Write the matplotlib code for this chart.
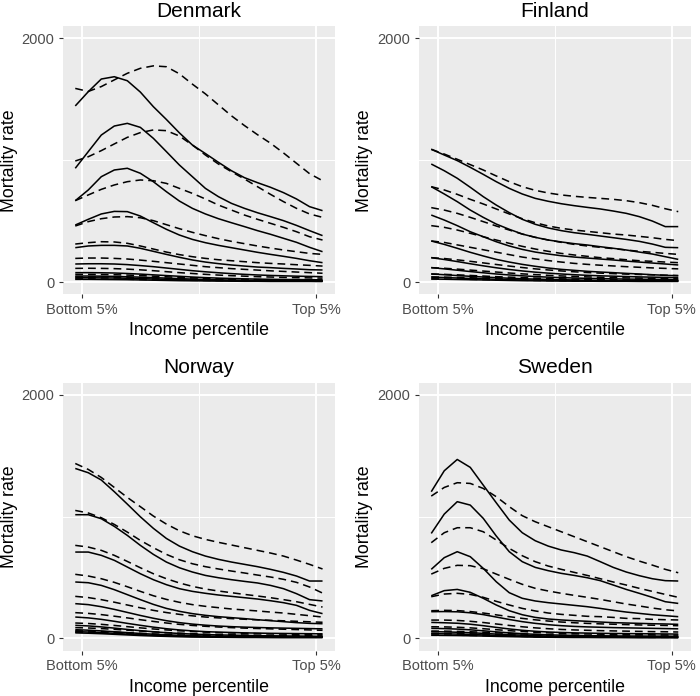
import matplotlib
matplotlib.use("Agg")
import matplotlib.pyplot as plt
from matplotlib.ticker import FixedLocator

plt.rcParams['font.family'] = ['Liberation Sans', 'DejaVu Sans']

# Income percentile midpoints (5% groups)
x_pct = [2.5, 7.5, 12.5, 17.5, 22.5, 27.5, 32.5, 37.5, 42.5, 47.5,
         52.5, 57.5, 62.5, 67.5, 72.5, 77.5, 82.5, 87.5, 92.5, 97.5]
x_tick_pos = [5, 95]
x_tick_labels = ["Bottom 5%", "Top 5%"]
y_tick_pos = [0, 2000]
y_tick_labels = ["0", "2000"]
countries = ["Denmark", "Finland", "Norway", "Sweden"]

denmark_solid = [
    [1446, 1563, 1667, 1686, 1653, 1560, 1440, 1335, 1225, 1125, 1055, 983, 914, 857, 816, 778, 734, 682, 619, 586],
    [934, 1071, 1207, 1281, 1303, 1270, 1180, 1071, 961, 865, 769, 701, 646, 605, 569, 537, 504, 465, 422, 381],
    [668, 756, 865, 920, 934, 893, 824, 742, 665, 605, 559, 520, 487, 455, 422, 392, 359, 326, 285, 249],
    [468, 515, 559, 580, 578, 542, 487, 433, 386, 350, 323, 301, 282, 263, 244, 227, 211, 194, 175, 159],
    [282, 296, 301, 301, 296, 277, 252, 227, 203, 181, 164, 151, 140, 131, 123, 118, 112, 107, 101, 99],
    [148, 150, 150, 148, 143, 135, 126, 115, 104, 93, 84, 76, 69, 63, 58, 54, 51, 48, 46, 44],
    [77, 77, 76, 74, 70, 65, 59, 53, 47, 41, 36, 32, 29, 26, 24, 22, 21, 20, 19, 18],
    [49, 49, 48, 46, 43, 40, 36, 32, 28, 24, 21, 18, 16, 14, 13, 12, 11, 10, 10, 9],
    [35, 35, 34, 33, 31, 28, 25, 22, 19, 16, 14, 12, 11, 10, 9, 9, 8, 8, 8, 7],
    [22, 22, 21, 20, 19, 17, 15, 13, 11, 10, 9, 8, 7, 6, 6, 5, 5, 5, 5, 4],
]
denmark_dashed = [
    [1590, 1565, 1605, 1660, 1714, 1755, 1775, 1768, 1710, 1625, 1545, 1455, 1365, 1285, 1210, 1140, 1060, 975, 890, 832],
    [994, 1029, 1079, 1134, 1188, 1227, 1249, 1243, 1199, 1125, 1043, 969, 906, 846, 783, 720, 660, 605, 559, 531],
    [668, 715, 761, 797, 824, 838, 832, 810, 769, 728, 682, 632, 591, 550, 515, 482, 449, 413, 372, 345],
    [460, 496, 520, 534, 537, 528, 504, 471, 438, 408, 381, 356, 334, 315, 296, 279, 263, 249, 235, 227],
    [312, 323, 331, 329, 318, 296, 271, 246, 225, 208, 194, 183, 175, 167, 159, 153, 148, 142, 137, 131],
    [194, 197, 197, 194, 189, 180, 170, 159, 148, 137, 126, 118, 110, 104, 98, 92, 87, 82, 77, 72],
    [112, 113, 112, 110, 106, 100, 93, 85, 77, 70, 63, 57, 52, 48, 44, 41, 38, 36, 34, 32],
    [63, 63, 62, 60, 57, 53, 48, 43, 38, 34, 30, 27, 24, 22, 20, 19, 18, 17, 16, 15],
    [42, 42, 41, 40, 38, 35, 32, 29, 26, 23, 21, 19, 17, 16, 15, 14, 13, 12, 12, 11],
    [26, 26, 25, 24, 23, 21, 19, 17, 15, 14, 13, 12, 11, 10, 9, 9, 8, 8, 8, 7],
]

finland_solid = [
    [1090, 1043, 997, 942, 884, 824, 769, 723, 687, 663, 643, 627, 613, 600, 583, 564, 537, 501, 455, 455],
    [969, 914, 852, 778, 701, 632, 570, 515, 474, 444, 422, 405, 392, 378, 364, 350, 334, 312, 285, 282],
    [783, 723, 660, 591, 531, 476, 433, 394, 367, 345, 329, 315, 304, 290, 277, 263, 246, 230, 208, 186],
    [550, 509, 463, 413, 372, 331, 296, 268, 246, 230, 216, 205, 197, 189, 181, 172, 164, 156, 148, 140],
    [337, 309, 277, 244, 214, 186, 164, 145, 129, 115, 104, 96, 88, 82, 77, 71, 66, 60, 55, 52],
    [200, 185, 168, 150, 133, 117, 103, 91, 81, 73, 66, 60, 55, 51, 48, 45, 42, 40, 38, 36],
    [118, 108, 97, 86, 76, 66, 58, 51, 45, 40, 36, 33, 30, 28, 26, 24, 23, 22, 21, 20],
    [66, 60, 53, 47, 41, 36, 31, 27, 24, 21, 19, 17, 15, 14, 13, 12, 12, 11, 11, 10],
    [40, 37, 33, 29, 26, 22, 19, 17, 15, 13, 12, 11, 10, 9, 9, 8, 8, 8, 8, 8],
    [25, 23, 21, 19, 17, 15, 13, 11, 10, 9, 8, 7, 7, 6, 6, 6, 5, 5, 5, 5],
]
finland_dashed = [
    [1090, 1051, 1008, 964, 920, 871, 824, 783, 753, 731, 715, 704, 695, 687, 679, 668, 652, 630, 602, 578],
    [783, 756, 720, 679, 641, 600, 559, 520, 487, 460, 441, 427, 416, 405, 394, 386, 375, 364, 350, 340],
    [611, 591, 564, 531, 496, 460, 427, 394, 367, 345, 326, 309, 296, 285, 274, 263, 252, 244, 235, 227],
    [463, 449, 427, 400, 372, 345, 318, 293, 271, 252, 235, 222, 211, 200, 192, 183, 175, 170, 164, 159],
    [337, 325, 305, 285, 265, 245, 225, 205, 190, 176, 164, 153, 145, 138, 132, 126, 121, 116, 112, 108],
    [200, 193, 182, 170, 157, 144, 131, 119, 108, 99, 91, 84, 78, 73, 69, 65, 62, 59, 56, 53],
    [118, 113, 106, 98, 90, 82, 74, 67, 61, 55, 50, 46, 42, 39, 36, 34, 32, 30, 29, 28],
    [66, 63, 59, 54, 49, 44, 40, 36, 32, 29, 26, 24, 22, 20, 19, 18, 17, 16, 15, 15],
    [42, 40, 38, 35, 32, 29, 26, 23, 21, 19, 17, 16, 15, 14, 13, 12, 12, 11, 11, 11],
    [26, 25, 24, 22, 20, 18, 16, 15, 13, 12, 11, 10, 10, 9, 9, 8, 8, 8, 7, 7],
]

norway_solid = [
    [1396, 1361, 1301, 1205, 1103, 999, 904, 821, 758, 712, 676, 649, 627, 608, 589, 567, 542, 512, 471, 471],
    [1016, 1016, 983, 920, 846, 764, 690, 627, 580, 545, 517, 498, 482, 468, 455, 435, 408, 367, 318, 307],
    [709, 709, 682, 641, 586, 531, 482, 441, 408, 386, 370, 356, 345, 334, 323, 309, 293, 271, 230, 203],
    [463, 457, 435, 400, 359, 318, 279, 246, 222, 203, 189, 178, 170, 162, 153, 145, 137, 129, 123, 120],
    [285, 277, 260, 238, 213, 188, 165, 145, 129, 117, 108, 101, 96, 92, 89, 86, 84, 82, 80, 78],
    [175, 168, 156, 140, 123, 107, 92, 79, 69, 61, 55, 51, 48, 45, 43, 41, 40, 39, 38, 37],
    [107, 102, 94, 84, 73, 63, 54, 46, 40, 35, 31, 28, 26, 24, 22, 21, 20, 19, 18, 17],
    [71, 67, 61, 54, 47, 40, 34, 29, 25, 22, 19, 17, 16, 15, 14, 13, 12, 12, 11, 11],
    [55, 52, 47, 41, 35, 30, 25, 21, 18, 15, 13, 12, 11, 10, 9, 9, 8, 8, 8, 8],
    [45, 42, 38, 33, 28, 23, 19, 16, 13, 11, 10, 9, 8, 7, 7, 6, 6, 6, 6, 6],
]
norway_dashed = [
    [1437, 1388, 1322, 1240, 1158, 1082, 1005, 939, 884, 843, 813, 789, 767, 745, 723, 701, 676, 643, 608, 570],
    [1051, 1030, 991, 936, 873, 805, 745, 690, 646, 613, 589, 570, 553, 537, 520, 504, 485, 460, 422, 372],
    [764, 750, 723, 682, 632, 580, 531, 490, 455, 427, 405, 389, 375, 361, 348, 334, 318, 301, 279, 257],
    [526, 512, 490, 460, 424, 386, 350, 320, 296, 277, 263, 252, 241, 233, 225, 216, 208, 197, 186, 175],
    [345, 335, 318, 297, 274, 251, 230, 212, 197, 185, 175, 168, 162, 157, 152, 148, 144, 140, 136, 132],
    [211, 205, 195, 182, 168, 153, 139, 126, 115, 106, 99, 93, 88, 84, 81, 78, 75, 72, 69, 66],
    [126, 122, 115, 106, 96, 86, 77, 69, 62, 56, 51, 47, 44, 41, 39, 37, 35, 33, 32, 31],
    [88, 85, 80, 74, 67, 60, 53, 47, 42, 38, 34, 31, 29, 27, 25, 24, 23, 22, 21, 20],
    [62, 60, 56, 51, 46, 41, 36, 32, 28, 25, 23, 21, 19, 18, 17, 16, 15, 15, 14, 14],
    [50, 48, 45, 41, 37, 32, 28, 24, 21, 19, 17, 15, 14, 13, 12, 12, 11, 11, 10, 10],
]

sweden_solid = [
    [1205, 1377, 1470, 1405, 1259, 1114, 972, 868, 802, 758, 726, 704, 676, 630, 583, 545, 515, 490, 474, 471],
    [862, 1021, 1123, 1095, 986, 841, 712, 630, 583, 556, 534, 517, 498, 474, 438, 402, 370, 337, 301, 287],
    [567, 663, 712, 671, 575, 465, 375, 329, 307, 293, 282, 271, 260, 246, 230, 216, 205, 194, 186, 178],
    [350, 392, 402, 378, 329, 274, 227, 194, 172, 159, 151, 145, 140, 134, 129, 126, 123, 120, 118, 115],
    [219, 220, 218, 210, 195, 175, 155, 137, 123, 112, 104, 98, 94, 91, 88, 86, 84, 82, 80, 78],
    [131, 128, 124, 116, 104, 90, 77, 66, 58, 52, 48, 45, 43, 41, 40, 39, 38, 37, 36, 35],
    [82, 80, 76, 70, 62, 53, 45, 38, 33, 29, 26, 24, 22, 21, 20, 19, 19, 18, 18, 17],
    [55, 53, 50, 46, 41, 35, 30, 26, 22, 19, 17, 15, 14, 13, 12, 12, 11, 11, 10, 10],
    [38, 37, 35, 32, 28, 24, 20, 17, 15, 13, 12, 11, 10, 9, 9, 8, 8, 8, 8, 7],
    [25, 24, 23, 21, 19, 16, 14, 12, 10, 9, 8, 7, 7, 6, 6, 6, 5, 5, 5, 5],
]
sweden_dashed = [
    [1169, 1240, 1279, 1273, 1232, 1164, 1082, 1008, 958, 917, 876, 835, 794, 753, 712, 671, 635, 602, 567, 539],
    [786, 868, 909, 909, 876, 808, 739, 679, 630, 594, 567, 542, 517, 490, 463, 438, 411, 386, 361, 337],
    [528, 575, 600, 597, 572, 528, 485, 444, 411, 389, 370, 353, 337, 320, 301, 282, 266, 249, 235, 225],
    [342, 364, 370, 361, 337, 304, 274, 246, 225, 208, 197, 189, 181, 178, 172, 164, 162, 156, 153, 151],
    [227, 230, 228, 220, 208, 193, 178, 164, 152, 142, 134, 128, 123, 119, 116, 113, 110, 108, 106, 104],
    [150, 150, 147, 140, 130, 118, 106, 95, 86, 79, 73, 69, 66, 63, 61, 59, 57, 55, 54, 52],
    [95, 94, 91, 86, 79, 71, 63, 56, 50, 45, 41, 38, 36, 34, 32, 31, 30, 29, 28, 27],
    [60, 59, 57, 54, 50, 45, 40, 36, 32, 29, 26, 24, 22, 21, 20, 19, 18, 17, 17, 16],
    [42, 41, 39, 37, 34, 30, 27, 24, 21, 19, 17, 16, 15, 14, 13, 13, 12, 12, 12, 11],
    [28, 27, 26, 24, 22, 20, 18, 16, 14, 13, 12, 11, 10, 10, 9, 9, 9, 8, 8, 8],
]

solid_sets = [denmark_solid, finland_solid, norway_solid, sweden_solid]
dashed_sets = [denmark_dashed, finland_dashed, norway_dashed, sweden_dashed]

W, H = 700, 696
fig = plt.figure(figsize=(W / 100, H / 100), dpi=100)

# panel rectangles in pixels: (left, top, right, bottom)
rects_px = [(62.9, 26.3, 334.9, 294.2), (418.9, 26.3, 690.6, 294.2),
            (62.9, 382.8, 334.9, 650.5), (418.9, 382.8, 690.6, 650.5)]
# right edge (pixels) of the rotated y-axis title for left / right column
ylabel_right_px = [18.5, 373.0, 18.5, 373.0]

for k, country in enumerate(countries):
    l, t, r, b = rects_px[k]
    ax = fig.add_axes([l / W, (H - b) / H, (r - l) / W, (b - t) / H])
    ax.set_facecolor('#EBEBEB')
    for s in ax.spines.values():
        s.set_visible(False)
    ax.set_xlim(-2.25, 102.25)
    ax.set_ylim(-100, 2100)
    ax.set_xticks(x_tick_pos)
    ax.set_xticklabels(x_tick_labels)
    ax.set_yticks(y_tick_pos)
    ax.set_yticklabels(y_tick_labels)
    ax.xaxis.set_minor_locator(FixedLocator([50]))
    ax.yaxis.set_minor_locator(FixedLocator([1000]))
    ax.tick_params(which='major', length=3.1, width=0.8, color='#333333',
                   labelcolor='#4D4D4D', labelsize=10.5, pad=3.2)
    ax.tick_params(which='minor', length=0)
    ax.grid(which='major', color='white', lw=1.4)
    ax.grid(which='minor', color='white', lw=0.7)
    ax.set_axisbelow(True)

    for ys in dashed_sets[k]:
        ax.plot(x_pct, ys, color='black', lw=1.12, linestyle=(0, (5.0, 3.2)),
                dash_capstyle='butt')
    for ys in solid_sets[k]:
        ax.plot(x_pct, ys, color='black', lw=1.12, solid_capstyle='butt')

    ax.set_title(country, fontsize=15.0, color='black', pad=6.9)
    ax.set_xlabel("Income percentile", fontsize=12.8, color='black')
    ax.set_ylabel("Mortality rate", fontsize=12.8, color='black')
    hgt = b - t
    wdt = r - l
    ax.xaxis.set_label_coords(0.5, -(322.3 - 294.2) / hgt)
    ax.yaxis.set_label_coords((ylabel_right_px[k] - l) / wdt, 0.5)

fig.savefig("out.png", dpi=100)
